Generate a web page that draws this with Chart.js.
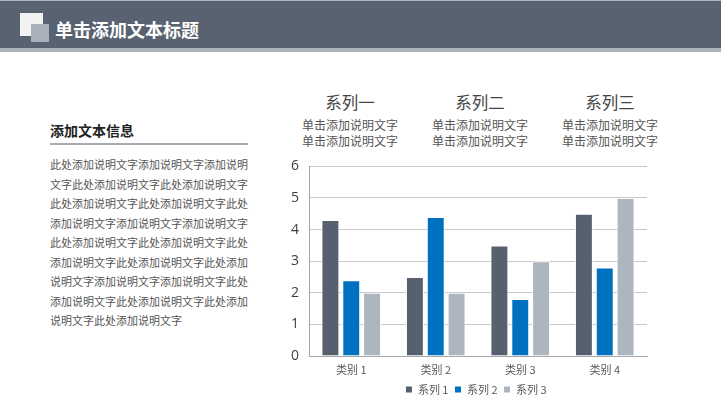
<!DOCTYPE html>
<html>
<head>
<meta charset="utf-8">
<script src="https://cdn.jsdelivr.net/npm/chart.js@4.4.0/dist/chart.umd.min.js"></script>
<style>
  body { margin: 0; width: 721px; height: 405px; background: #fff; overflow: hidden; position: relative;
         font-family: "Noto Sans CJK SC", "Noto Sans", sans-serif; }
  .top-edge { position: absolute; left: 0; top: 0; width: 721px; height: 1px; background: #aeb4bd; }
  .header { position: absolute; left: 0; top: 1px; width: 721px; height: 47px; background: #596270; }
  .strip { position: absolute; left: 0; top: 48px; width: 721px; height: 4px; background: #adb3bc; }
  .sq1 { position: absolute; left: 20px; top: 13px; width: 23px; height: 23px; background: #f2f2f2; }
  .sq2 { position: absolute; left: 31px; top: 24px; width: 18px; height: 18px; background: #aab1bb; }
  .title { position: absolute; left: 55px; top: 16px; color: #fff; font-size: 18px; font-weight: bold; line-height: 26px; }
  .sub { position: absolute; left: 50px; top: 120px; font-size: 14px; font-weight: bold; color: #222; line-height: 20px; }
  .rule { position: absolute; left: 50px; top: 143px; width: 198px; height: 2px; background: #a9adb3; }
  .para { position: absolute; left: 50px; top: 155px; width: 210px; font-size: 11px; line-height: 19.5px; color: #555; white-space: nowrap; }
  .ser { position: absolute; top: 90px; width: 130px; margin-left: -65px; text-align: center; color: #555; }
  .ser .h { font-size: 16.5px; line-height: 24px; color: #444; margin-bottom: 3px; }
  .ser .d { font-size: 12px; line-height: 16px; }
  #wrap { position: absolute; left: 270px; top: 148px; width: 412px; height: 257px; }
</style>
</head>
<body>
<div class="top-edge"></div>
<div class="header"></div>
<div class="strip"></div>
<div class="sq1"></div>
<div class="sq2"></div>
<div class="title">单击添加文本标题</div>

<div class="sub">添加文本信息</div>
<div class="rule"></div>
<div class="para">此处添加说明文字添加说明文字添加说明<br>文字此处添加说明文字此处添加说明文字<br>此处添加说明文字此处添加说明文字此处<br>添加说明文字添加说明文字添加说明文字<br>此处添加说明文字此处添加说明文字此处<br>添加说明文字此处添加说明文字此处添加<br>说明文字添加说明文字添加说明文字此处<br>添加说明文字此处添加说明文字此处添加<br>说明文字此处添加说明文字</div>

<div class="ser" style="left:350px"><div class="h">系列一</div><div class="d">单击添加说明文字</div><div class="d">单击添加说明文字</div></div>
<div class="ser" style="left:480px"><div class="h">系列二</div><div class="d">单击添加说明文字</div><div class="d">单击添加说明文字</div></div>
<div class="ser" style="left:610px"><div class="h">系列三</div><div class="d">单击添加说明文字</div><div class="d">单击添加说明文字</div></div>

<div id="wrap"><canvas id="myChart"></canvas></div>

<script>
var categories = ['类别 1', '类别 2', '类别 3', '类别 4'];
var seriesNames = ['系列 1', '系列 2', '系列 3'];
var series1 = [4.3, 2.5, 3.5, 4.5];
var series2 = [2.4, 4.4, 1.8, 2.8];
var series3 = [2, 2, 3, 5];
var yTicks = [0, 1, 2, 3, 4, 5, 6];

var warna = ['#56606e', '#0070c0', '#adb5bf'];
var nilai = [series1, series2, series3];

var datasets = [];
for (var i = 0; i < seriesNames.length; i++) {
    datasets.push({
        label: seriesNames[i],
        data: nilai[i],
        backgroundColor: warna[i],
        borderColor: '#ffffff',
        borderWidth: 1,
        borderSkipped: 'bottom',
        categoryPercentage: 0.74,
        barPercentage: 0.86
    });
}

var ctx = document.getElementById('myChart').getContext('2d');
var barGraph = new Chart(ctx, {
    type: 'bar',
    data: {
        labels: categories,
        datasets: datasets
    },
    options: {
        responsive: true,
        maintainAspectRatio: false,
        animation: false,
        layout: { padding: { top: 16, right: 0, left: 0, bottom: 0 } },
        plugins: {
            tooltip: { enabled: false },
            legend: {
                position: 'bottom',
                labels: {
                    boxWidth: 7,
                    boxHeight: 7,
                    padding: 6,
                    color: '#595959',
                    font: { size: 11, family: '"Noto Sans CJK SC", sans-serif' }
                }
            }
        },
        scales: {
            x: {
                grid: { display: false, drawTicks: false },
                border: { display: true, color: '#a6a6a6', width: 1 },
                ticks: {
                    color: '#595959',
                    padding: 7,
                    font: { size: 11, family: '"Noto Sans CJK SC", sans-serif' }
                },
                afterFit: function(axis) { axis.height = 22; }
            },
            y: {
                min: 0,
                max: 6,
                afterBuildTicks: function(axis) {
                    axis.ticks = yTicks.map(function(v) { return { value: v }; });
                },
                grid: { color: '#c8c8c8', drawTicks: false },
                border: { display: true, color: '#a6a6a6', width: 1 },
                ticks: {
                    color: '#404040',
                    padding: 10,
                    font: { size: 14, family: '"Open Sans", sans-serif' }
                },
                afterFit: function(axis) { axis.width = 39; }
            },
            // kosong di kanan, supaya legend tetap di tengah
            kanan: {
                type: 'linear',
                position: 'right',
                min: 0,
                max: 6,
                grid: { display: false, drawTicks: false },
                border: { display: false },
                ticks: { display: false },
                afterFit: function(axis) { axis.width = 35; }
            }
        }
    }
});
</script>
</body>
</html>
